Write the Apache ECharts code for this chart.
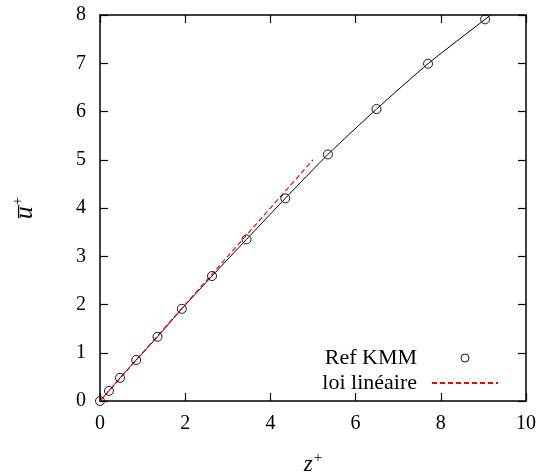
<!DOCTYPE html>
<html>
<head>
<meta charset="utf-8">
<script src="https://cdn.jsdelivr.net/npm/echarts@6/dist/echarts.min.js"></script>
<style>
  html, body { margin: 0; padding: 0; background: #fff; }
  #chart { width: 548px; height: 474px; }
</style>
</head>
<body>
<div id="chart"></div>
<script>
// KMM reference samples in the viscous sublayer (z+, mean u+)
const kmmZ = [0, 0.21, 0.47, 0.85, 1.35, 1.92, 2.63, 3.44, 4.35, 5.35, 6.49, 7.70, 9.04];
const kmmU = [0, 0.21, 0.48, 0.85, 1.33, 1.91, 2.59, 3.35, 4.20, 5.11, 6.05, 6.99, 7.91];
// continuous KMM profile (runs past the top of the frame)
const profileZ = [0, 0.21, 0.47, 0.85, 1.35, 1.92, 2.63, 3.44, 4.35, 5.35, 6.49, 7.70, 9.04, 9.80];
const profileU = [0, 0.21, 0.48, 0.85, 1.33, 1.91, 2.59, 3.35, 4.20, 5.11, 6.05, 6.99, 7.91, 8.42];
// linear law u+ = z+
const linZ = [0, 5];
const linU = [0, 5];

const xTicks = { min: 0, max: 10, interval: 2 };
const yTicks = { min: 0, max: 8, interval: 1 };

const serif = '"Liberation Serif", "DejaVu Serif", serif';
const zip = (a, b) => a.map((v, i) => [v, b[i]]);

const frameLine = { show: true, onZero: false, lineStyle: { color: '#000', width: 1.5 } };
const innerTick = { show: true, inside: true, length: 8, lineStyle: { color: '#000', width: 1.2 } };
const hollowCircle = { color: 'rgba(0,0,0,0)', borderColor: '#000', borderWidth: 0.9, opacity: 1 };

const chart = echarts.init(document.getElementById('chart'), null, { renderer: 'canvas' });
chart.setOption({
  animation: false,
  backgroundColor: '#fff',
  grid: { left: 100, right: 22, top: 15, bottom: 73, containLabel: false, outerBoundsMode: 'none' },
  xAxis: [
    {
      type: 'value', position: 'bottom', ...xTicks,
      name: '{i|z}{s|+}', nameLocation: 'middle', nameGap: 50,
      nameTextStyle: {
        rich: {
          i: { fontFamily: serif, fontStyle: 'italic', fontSize: 23, color: '#000' },
          s: { fontFamily: serif, fontSize: 15, color: '#000', padding: [0, 0, 12, 1] }
        }
      },
      axisLine: frameLine, axisTick: innerTick, splitLine: { show: false },
      axisLabel: { fontFamily: serif, fontSize: 20, color: '#000', margin: 13 }
    },
    {
      type: 'value', position: 'top', ...xTicks,
      axisLine: frameLine, axisTick: innerTick, splitLine: { show: false },
      axisLabel: { show: false }
    }
  ],
  yAxis: [
    {
      type: 'value', position: 'left', ...yTicks,
      name: '{i|u\u0305}{s|+}', nameLocation: 'middle', nameGap: 60, nameRotate: 90,
      nameTextStyle: {
        rich: {
          i: { fontFamily: serif, fontStyle: 'italic', fontSize: 26, color: '#000' },
          s: { fontFamily: serif, fontSize: 15, color: '#000', padding: [0, 0, 14, 1] }
        }
      },
      axisLine: frameLine, axisTick: innerTick, splitLine: { show: false },
      axisLabel: { fontFamily: serif, fontSize: 20, color: '#000', margin: 14 }
    },
    {
      type: 'value', position: 'right', ...yTicks,
      axisLine: frameLine, axisTick: innerTick, splitLine: { show: false },
      axisLabel: { show: false }
    }
  ],
  legend: {
    orient: 'vertical', align: 'right',
    right: 44, top: 342,
    itemWidth: 66, itemHeight: 8, itemGap: 3,
    textStyle: { fontFamily: serif, fontSize: 22, color: '#000', lineHeight: 19, padding: [0, 10, 0, 0] },
    data: [
      { name: 'Ref KMM', icon: 'circle', itemStyle: hollowCircle },
      { name: 'loi linéaire', itemStyle: { opacity: 0 } }
    ]
  },
  series: [
    {
      name: 'profil KMM', type: 'line', xAxisIndex: 0, yAxisIndex: 0,
      data: zip(profileZ, profileU), symbol: 'none', smooth: 0.2,
      lineStyle: { color: '#000', width: 1 }, itemStyle: { color: '#000' }, silent: true, z: 2
    },
    {
      name: 'loi linéaire', type: 'line', xAxisIndex: 0, yAxisIndex: 0,
      data: zip(linZ, linU), symbol: 'none',
      itemStyle: { color: '#ff0000' },
      lineStyle: { color: '#ff0000', width: 1.2, type: [5, 3] }, z: 3
    },
    {
      name: 'Ref KMM', type: 'scatter', xAxisIndex: 0, yAxisIndex: 0,
      data: zip(kmmZ, kmmU), symbol: 'circle', symbolSize: 9,
      itemStyle: hollowCircle,
      z: 4
    }
  ]
});
</script>
</body>
</html>
